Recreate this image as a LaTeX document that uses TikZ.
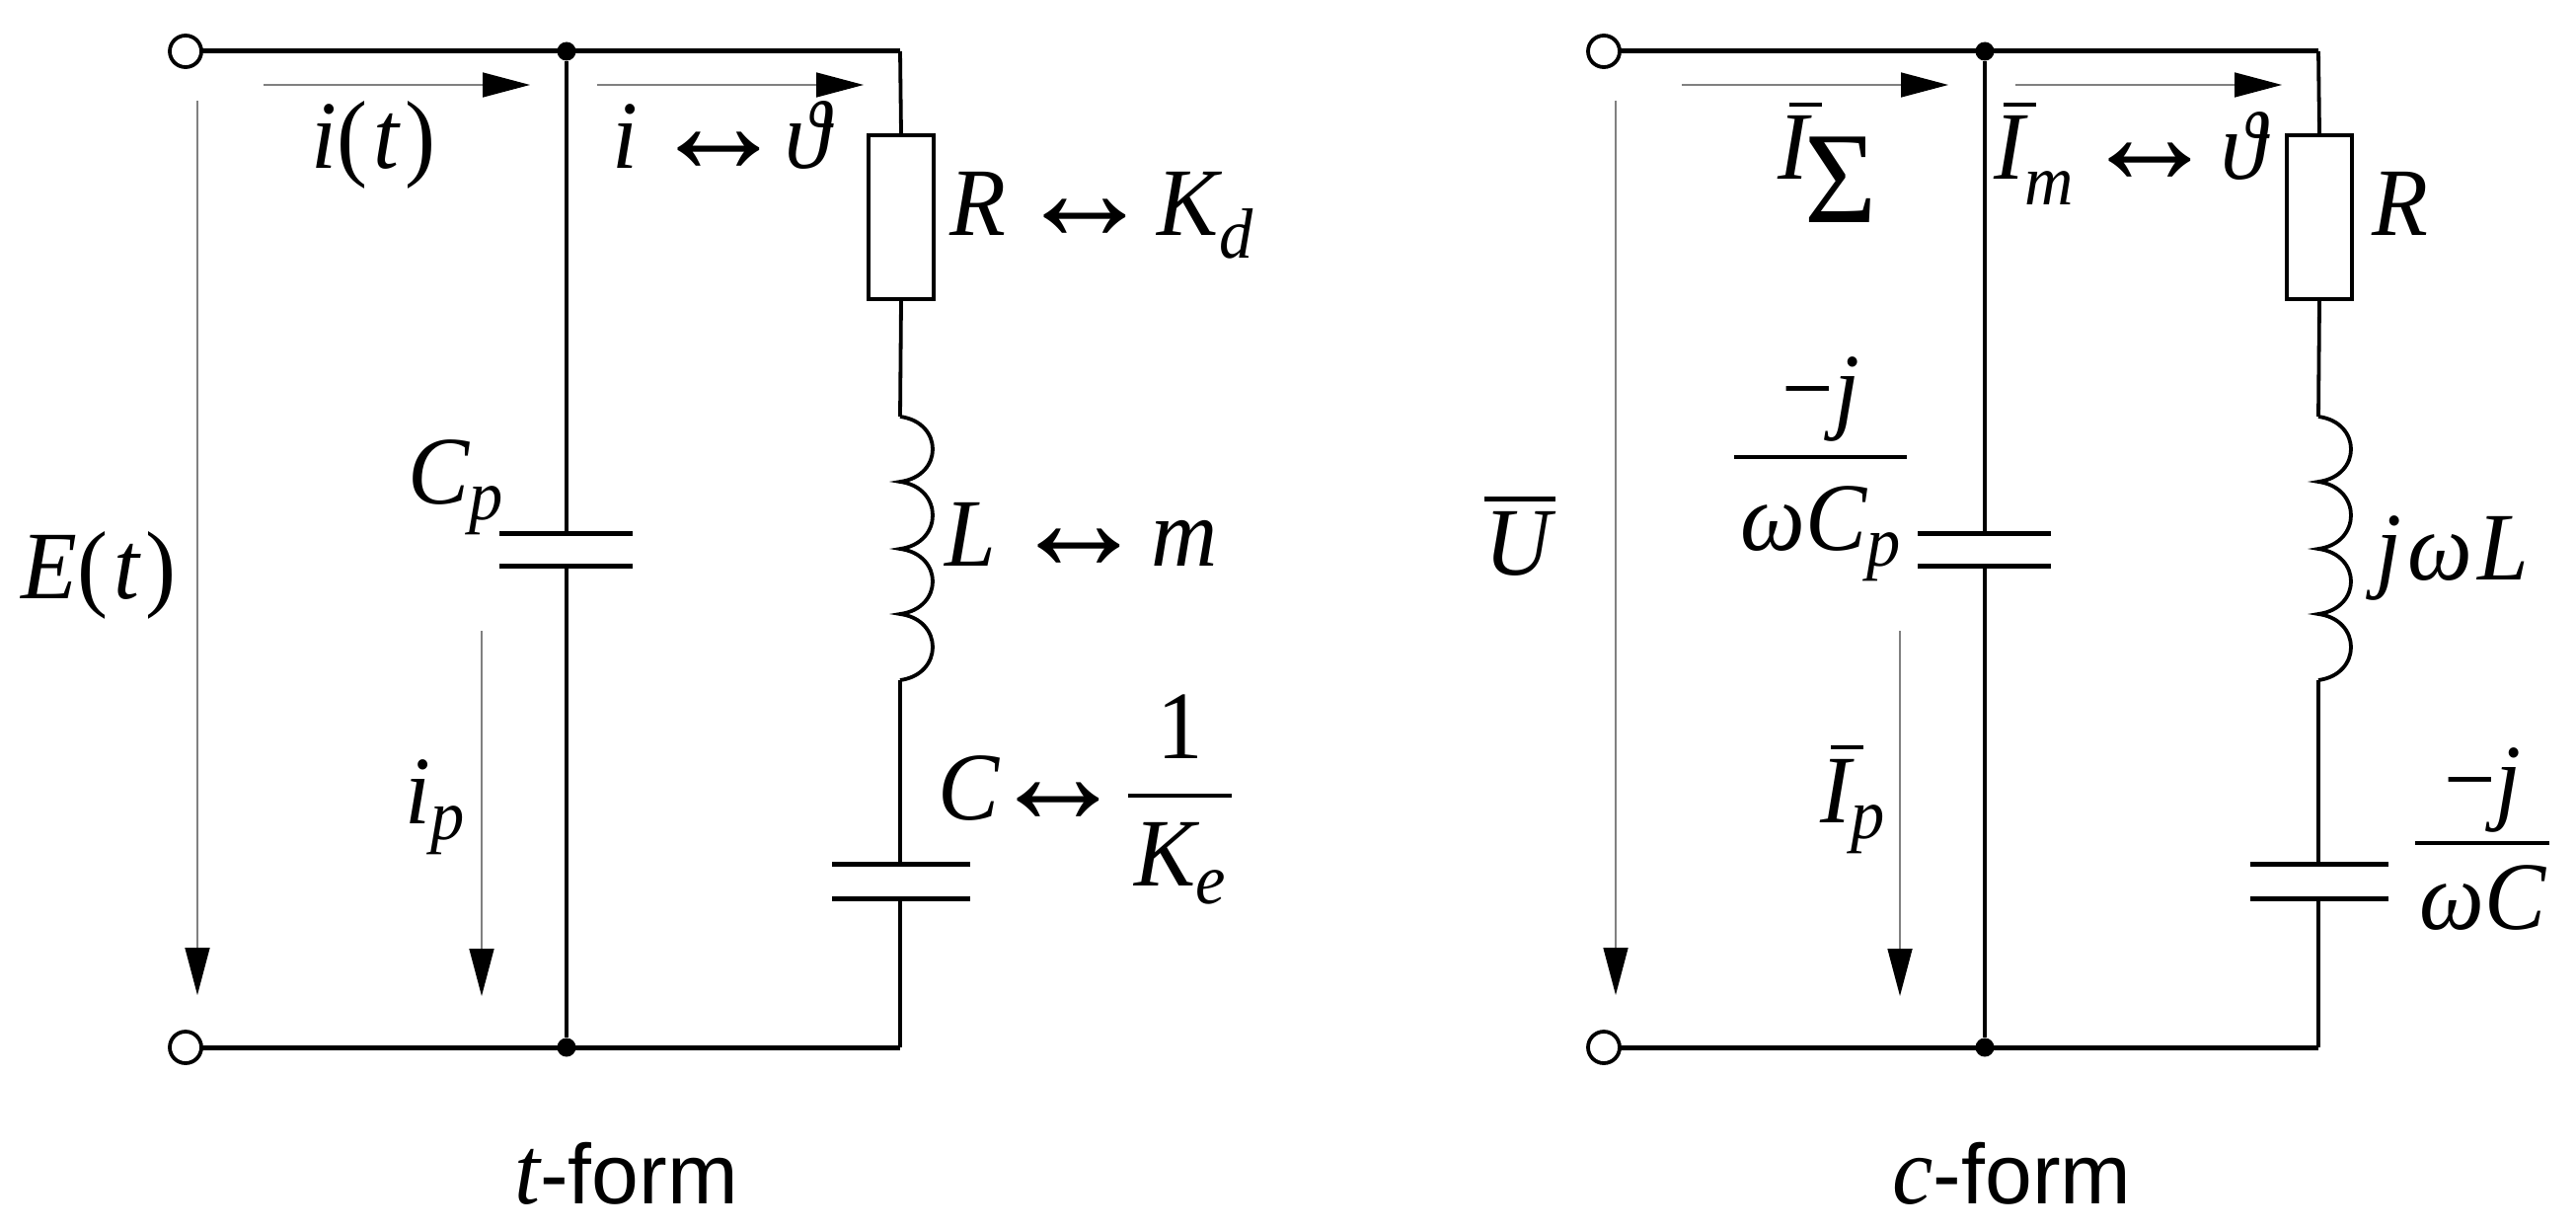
\documentclass[tikz,border=0pt]{standalone}
\usepackage{fontspec}
\setmainfont{Liberation Serif}[FakeStretch=0.95]
\newfontfamily\sansform{Liberation Sans}
\usetikzlibrary{arrows.meta}
\newcommand\sbs[2][10pt]{\raisebox{-#1}{\fontsize{36}{36}\selectfont\itshape #2}}
\newcommand\lr{\raisebox{-2pt}{\scalebox{1.5}[1.5]{\upshape ↔}}}
\newcommand\barred[3]{\makebox[0pt][l]{\hspace{#1}\rule[37pt]{#2}{2.2pt}}#3}
\newcommand\fracv[5]{\rlap{\hbox to #1{\hss\raisebox{#3}{#2}\hss}}\rlap{\hbox to #1{\hss\raisebox{-#4}{#5}\hss}}\rule[-1.2pt]{#1}{2.4pt}}
\newcommand\targ[1]{{\upshape(}\kern 3pt#1\kern 3pt{\upshape)}}
\tikzset{
  wire/.style={line width=1.9pt,line join=miter},
  rail/.style={line width=2.5pt,line cap=square},
  plate/.style={line width=2.5pt},
  term/.style={circle,draw,fill=white,line width=1.9pt,minimum size=16pt,inner sep=0pt},
  jun/.style={circle,fill=black,minimum size=9.5pt,inner sep=0pt},
  res/.style={rectangle,draw,line width=2pt,fill=white,minimum width=33pt,minimum height=83pt,inner sep=0pt},
  flow/.style={draw=black!50,line width=0.8pt,-{Triangle[length=24pt,width=12.5pt,black]}},
  lab/.style={anchor=base west,inner sep=0pt,font=\fontsize{49}{55}\selectfont\itshape},
  formlab/.style={anchor=base west,inner sep=0pt,font=\fontsize{43}{50}\selectfont},
}
\begin{document}
\begin{tikzpicture}[x=0.5pt,y=-0.5pt]
\useasboundingbox (0,0) rectangle (2610,1246);
\foreach \p/\dx in {l/0,r/1437}{
\begin{scope}[shift={(\dx,0)}]
  \coordinate (\p ca) at (912,52);
  \coordinate (\p cb) at (912,1061);
  \coordinate (\p tac) at (188,52);
  \coordinate (\p tbc) at (188,1061);
  \draw[rail] (\p tac) -- (\p ca);
  \draw[rail] (\p tbc) -- (\p cb);
  \node[term] (\p ta) at (\p tac) {};
  \node[term] (\p tb) at (\p tbc) {};
  \node[jun] (\p ja) at (574,52) {};
  \node[jun] (\p jb) at (574,1061) {};
  \node[res] (\p R) at (913,220) {};
  \coordinate (\p La) at (912,422);
  \coordinate (\p Lb) at (912,488);
  \coordinate (\p Lc) at (912,556);
  \coordinate (\p Ld) at (912,622);
  \coordinate (\p Le) at (912,689);
  \coordinate (\p Cpa) at (574,540);
  \coordinate (\p Cpb) at (574,573);
  \coordinate (\p Cpal) at (506,540);
  \coordinate (\p Cpar) at (641,540);
  \coordinate (\p Cpbl) at (506,573);
  \coordinate (\p Cpbr) at (641,573);
  \coordinate (\p Ca) at (912,875);
  \coordinate (\p Cb) at (912,910);
  \coordinate (\p Cal) at (843,875);
  \coordinate (\p Car) at (983,875);
  \coordinate (\p Cbl) at (843,910);
  \coordinate (\p Cbr) at (983,910);
  \draw[wire] (\p ca) -- (\p R.north);
  \draw[wire] (\p R.south) -- (\p La);
  \draw[wire] (\p La) .. controls +(44,6) and +(44,-6) .. (\p Lb)
              .. controls +(44,6) and +(44,-6) .. (\p Lc)
              .. controls +(44,6) and +(44,-6) .. (\p Ld)
              .. controls +(44,6) and +(44,-6) .. (\p Le);
  \draw[wire] (\p Le) -- (\p Ca);
  \draw[wire] (\p Cb) -- (\p cb);
  \draw[wire] (\p ja) -- (\p Cpa);
  \draw[wire] (\p Cpb) -- (\p jb);
  \draw[plate] (\p Cpal) -- (\p Cpar);
  \draw[plate] (\p Cpbl) -- (\p Cpbr);
  \draw[plate] (\p Cal) -- (\p Car);
  \draw[plate] (\p Cbl) -- (\p Cbr);
  \coordinate (\p fa) at (267,86);
  \coordinate (\p fb) at (537,86);
  \coordinate (\p ga) at (605,86);
  \coordinate (\p gb) at (875,86);
  \coordinate (\p ea) at (200,102);
  \coordinate (\p eb) at (200,1008);
  \coordinate (\p pa) at (488,639);
  \coordinate (\p pb) at (488,1009);
  \draw[flow] (\p fa) -- (\p fb);
  \draw[flow] (\p ga) -- (\p gb);
  \draw[flow] (\p ea) -- (\p eb);
  \draw[flow] (\p pa) -- (\p pb);
\end{scope}
}
% t-form labels
\node[lab] (it) at (315,171) {i\targ{t}};
\node[lab] (ith) at (620,171) {i\hspace{6pt}\lr\hspace{-1pt}ϑ};
\node[lab] (RK) at (962,239) {R\hspace{5pt}\lr\hspace{2pt}K\sbs[11pt]{d}};
\node[lab] (Lm) at (957,573) {L\hspace{7pt}\lr\hspace{2pt}m};
\node[lab] (Cp) at (413,510) {C\sbs[8pt]{p}};
\node[lab] (Et) at (21,606) {E\targ{t}};
\node[lab] (ip) at (410,834) {i\sbs[8pt]{p}};
\node[lab] (CC) at (950,830) {C\hspace{-5pt}\lr};
\node[lab] (Ke) at (1143,806) {\fracv{52.5pt}{\upshape 1}{19pt}{45.5pt}{K\sbs[9pt]{e}}};
\node[formlab] (tf) at (521,1219) {\fontsize{49}{55}\selectfont\itshape t\sansform\upshape\fontsize{43}{50}\selectfont -form};
% c-form labels
\node[lab] (IS) at (1801,182) {\barred{6pt}{16.5pt}{I}\kern-2pt{\upshape\raisebox{-22pt}{\scalebox{1.35}{Σ}}}};
\node[lab] (Im) at (2020,182) {\barred{5pt}{16.5pt}{I}\sbs[13pt]{m}\hspace{4pt}\lr\hspace{1pt}ϑ};
\node[lab] (Rr) at (2403,239) {R};
\node[lab] (Cpf) at (1757,463) {\fracv{87.5pt}{{\upshape −}j}{18.5pt}{47pt}{ωC\sbs[8pt]{p}}};
\node[lab] (Ub) at (1504,582) {\makebox[0pt][l]{\rule[37pt]{36pt}{2.4pt}}U};
\node[lab] (jw) at (2407,587) {j\kern3ptω\kern3ptL};
\node[lab] (Ip) at (1844,833) {\barred{5.5pt}{16.5pt}{I}\sbs[8pt]{p}};
\node[lab] (Cf) at (2447,854) {\fracv{68pt}{{\upshape −}j}{16pt}{43.5pt}{ωC}};
\node[formlab] (cf) at (1917,1219) {\fontsize{49}{55}\selectfont\itshape c\sansform\upshape\fontsize{43}{50}\selectfont -form};
\end{tikzpicture}
\end{document}
